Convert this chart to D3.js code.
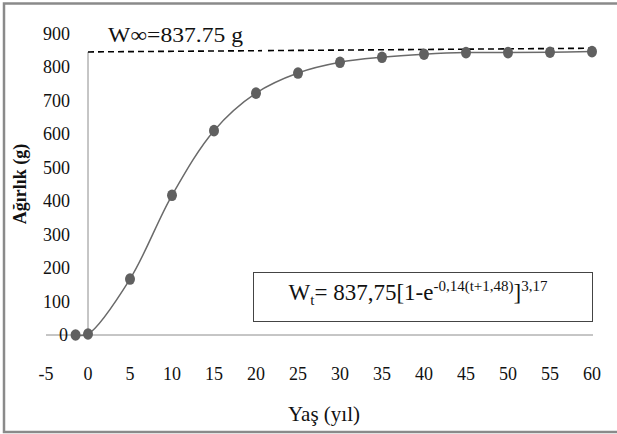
<!DOCTYPE html>
<html>
<head>
<meta charset="utf-8">
<script src="https://cdn.jsdelivr.net/npm/d3@7"></script>
<style>
  body { margin: 0; background: #fff; }
  text { font-family: "Liberation Serif", "Liberation Sans", sans-serif; fill: #111; }
</style>
</head>
<body>
<div id="chart"></div>
<script>
const ages = [-1.48, 0, 5, 10, 15, 20, 25, 30, 35, 40, 45, 50, 55, 60];
const weights = [0, 3, 167, 417, 610, 722, 782, 814, 829, 838, 843, 843, 844, 846];
const xTicks = [-5, 0, 5, 10, 15, 20, 25, 30, 35, 40, 45, 50, 55, 60];
const yTicks = [0, 100, 200, 300, 400, 500, 600, 700, 800, 900];
// hand drawn asymptote line (W∞), start and end
const asymAges = [0, 60];
const asymWeights = [845, 856];

const width = 617, height = 434;
const svg = d3.select('#chart').append('svg')
    .attr('width', width).attr('height', height);

// outer frame (right edge is cut off in the original)
svg.append('rect').attr('x', 4).attr('y', 3.5).attr('width', 700).attr('height', 428.5)
    .attr('fill', 'none').attr('stroke', '#8a8a8a').attr('stroke-width', 2.5);

const x = d3.scaleLinear().domain([-5, 60]).range([46, 592]);
const y = d3.scaleLinear().domain([0, 900]).range([335, 33.5]);

// zero line and y axis line
svg.append('line').attr('x1', x(-5)).attr('x2', x(60) + 1)
    .attr('y1', y(0)).attr('y2', y(0))
    .attr('stroke', '#8c8c8c').attr('stroke-width', 1);
svg.append('line').attr('x1', x(0)).attr('x2', x(0))
    .attr('y1', y(0)).attr('y2', y(asymWeights[0]))
    .attr('stroke', '#8c8c8c').attr('stroke-width', 1);

// tick labels
svg.append('g').selectAll('text').data(yTicks).join('text')
    .attr('x', d => d === 0 ? 68 : 70).attr('y', d => y(d) + 6)
    .attr('text-anchor', 'end').attr('font-size', 18).text(d => d);
svg.append('g').selectAll('text').data(xTicks).join('text')
    .attr('x', d => x(d)).attr('y', 380)
    .attr('text-anchor', 'middle').attr('font-size', 18).text(d => d);

// asymptote dashed line
const asym = asymAges.map((a, i) => ({a, w: asymWeights[i]}));
svg.append('line')
    .attr('x1', x(asym[0].a)).attr('y1', y(asym[0].w))
    .attr('x2', x(asym[1].a)).attr('y2', y(asym[1].w))
    .attr('stroke', '#000').attr('stroke-width', 1.6)
    .attr('stroke-dasharray', '6,4');

svg.append('rect').attr('x', 262).attr('y', 48).attr('width', 6).attr('height', 8).attr('fill', '#fff');
svg.append('text').attr('x', 108).attr('y', 42).attr('font-size', 21)
    .attr('textLength', 135).attr('lengthAdjust', 'spacingAndGlyphs')
    .text('W\u221E=837.75 g');

// growth curve
const data = ages.map((a, i) => ({a, w: weights[i]}));
const line = d3.line().x(d => x(d.a)).y(d => y(d.w)).curve(d3.curveCatmullRom.alpha(0.5));
svg.append('path').datum(data)
    .attr('fill', 'none').attr('stroke', '#6a6a6a').attr('stroke-width', 1.5)
    .attr('d', line);
svg.append('g').selectAll('ellipse').data(data).join('ellipse')
    .attr('cx', d => x(d.a)).attr('cy', d => y(d.w))
    .attr('rx', 5).attr('ry', 5.8).attr('fill', '#606060');

// formula box
svg.append('rect').attr('x', 253.5).attr('y', 272.5).attr('width', 339).attr('height', 49)
    .attr('fill', '#fff').attr('stroke', '#444').attr('stroke-width', 1);
const f = svg.append('text').attr('x', 418).attr('y', 300)
    .attr('text-anchor', 'middle').attr('font-size', 23);
f.append('tspan').text('W');
f.append('tspan').attr('font-size', 15).attr('dy', 5).text('t');
f.append('tspan').attr('dy', -5).text('= 837,75[1-e');
f.append('tspan').attr('font-size', 15).attr('dy', -9).text('-0,14(t+1,48)');
f.append('tspan').attr('dy', 9).text(']');
f.append('tspan').attr('font-size', 15).attr('dy', -9).text('3,17');

// axis titles
svg.append('text').attr('x', 324).attr('y', 421).attr('text-anchor', 'middle')
    .attr('font-size', 21).text('Yaş (yıl)');
svg.append('text').attr('transform', 'translate(26,184) rotate(-90)')
    .attr('text-anchor', 'middle').attr('font-size', 18).attr('font-weight', 'bold')
    .text('Ağırlık (g)');
</script>
</body>
</html>
